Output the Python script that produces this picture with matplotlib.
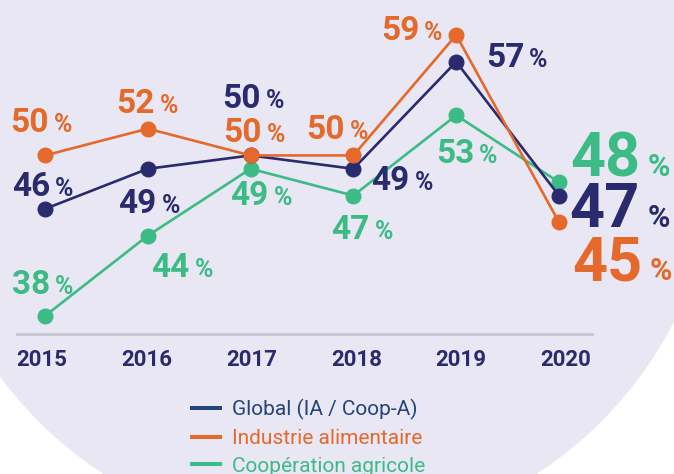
import matplotlib.pyplot as plt
from matplotlib.patches import Circle
from matplotlib.lines import Line2D
from matplotlib.transforms import ScaledTranslation

plt.rcParams['font.family'] = ['Roboto', 'DejaVu Sans']

years = [2015, 2016, 2017, 2018, 2019, 2020]
global_vals = [46, 49, 50, 49, 57, 47]
industrie_vals = [50, 52, 50, 50, 59, 45]
coop_vals = [38, 44, 49, 47, 53, 48]
series_names = ['Global (IA / Coop-A)', 'Industrie alimentaire', 'Coopération agricole']

NAVY = '#2a2a6e'
ORANGE = '#e4692b'
GREEN = '#3dbb87'
LEG_NAVY = '#23437b'
BG = '#e9e7f3'

# label anchors in px from the dot: (right edge of digits, baseline), y down
navy_off = [(5, -13), (9, 44), (10, -47), (56, 21), (68, 5), (81, 31)]
orange_off = [(4, -23), (7, -16), (11, -13), (-9, -16), (-37, 5), (83, 58)]
green_off = [(5, -22), (42, 41), (18, 36), (16, 43), (18, 48), (81, -6)]
# year labels sit a bit off their dots in the original
tick_shift = [-3, -1, 1, 3, 5, 7]

fig = plt.figure(figsize=(6.74, 4.74), dpi=100)

# big pale disc behind everything
bg = fig.add_axes([0, 0, 1, 1])
bg.set_xlim(0, 674)
bg.set_ylim(474, 0)
bg.axis('off')
bg.add_patch(Circle((320, 140), 398, color=BG, lw=0))

ax = fig.add_axes([17/674, 1 - 334/474, 575/674, 334/474])
ax.patch.set_alpha(0)
ax.set_xlim(2014.728, 2020.321)
ax.set_ylim(36.65, 61.62)
for s in ['top', 'right', 'left']:
    ax.spines[s].set_visible(False)
ax.spines['bottom'].set_color('#cac7d5')
ax.spines['bottom'].set_linewidth(2.2)
ax.set_yticks([])
ax.set_xticks(years)
ax.set_xticklabels([str(y) for y in years], fontsize=16, fontweight='bold', color=NAVY)
ax.tick_params(axis='x', length=0, pad=11)
for lab, sh in zip(ax.get_xticklabels(), tick_shift):
    lab.set_transform(lab.get_transform() + ScaledTranslation(sh / 100, 0, fig.dpi_scale_trans))


def draw_series(vals, color, offsets, z):
    ax.plot(years, vals, color=color, lw=1.9, marker='o', ms=10.5, zorder=z, clip_on=False)
    for i, (x, v) in enumerate(zip(years, vals)):
        dx, dy = offsets[i]
        big = (i == len(years) - 1)
        fs, pfs, gap = (44, 22, 8) if big else (24, 18, 5)
        ax.annotate(str(v), (x, v), xytext=(dx * 0.72, -dy * 0.72), textcoords='offset points',
                    ha='right', va='baseline', fontsize=fs, fontweight='bold', color=color,
                    annotation_clip=False)
        ax.annotate('%', (x, v), xytext=((dx + gap) * 0.72, -dy * 0.72), textcoords='offset points',
                    ha='left', va='baseline', fontsize=pfs, fontweight='bold', color=color,
                    annotation_clip=False)


draw_series(coop_vals, GREEN, green_off, 3)
draw_series(global_vals, NAVY, navy_off, 4)
draw_series(industrie_vals, ORANGE, orange_off, 5)

handles = [Line2D([], [], color=c, lw=2.9) for c in [LEG_NAVY, ORANGE, GREEN]]
leg = fig.legend(handles, series_names, loc='upper left', bbox_to_anchor=(192/674, 1 - 399/474),
                 frameon=False, fontsize=15, handlelength=1.35, handletextpad=0.58,
                 labelspacing=0.42, borderpad=0, borderaxespad=0)
for t, c in zip(leg.get_texts(), [LEG_NAVY, ORANGE, GREEN]):
    t.set_color(c)

fig.savefig('out.png', dpi=100)
